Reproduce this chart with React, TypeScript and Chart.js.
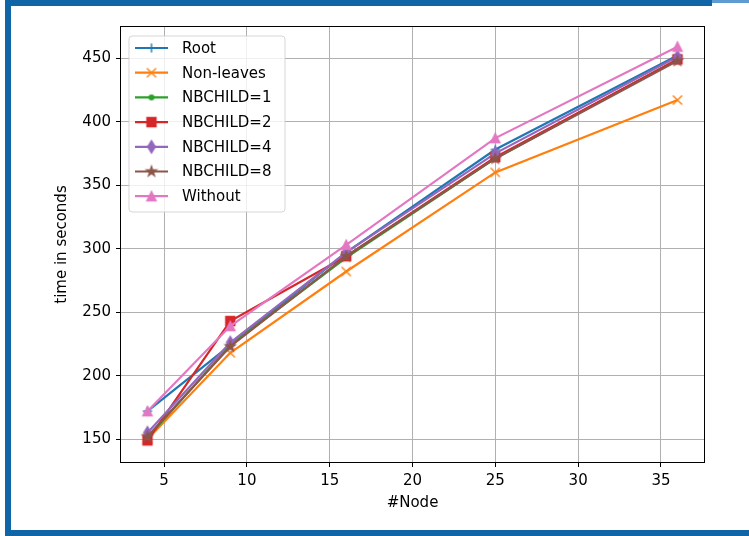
import React, { useEffect, useRef } from 'react';
import { Chart, registerables } from 'chart.js';

Chart.register(...registerables);

// ---- data ----
const nodes = [4, 9, 16, 25, 36];
const seriesNames = ['Root', 'Non-leaves', 'NBCHILD=1', 'NBCHILD=2', 'NBCHILD=4', 'NBCHILD=8', 'Without'];
const rootTimes = [172, 224, 297, 378, 452];
const nonLeavesTimes = [150, 218, 282, 360, 417];
const nbchild1Times = [151, 224, 293, 371, 449];
const nbchild2Times = [149, 243, 294, 372, 449];
const nbchild4Times = [155, 226, 297, 375, 451];
const nbchild8Times = [152, 223, 294, 371, 448];
const withoutTimes = [172, 239, 303, 387, 459];
const xTicks = [5, 10, 15, 20, 25, 30, 35];
const yTicks = [150, 200, 250, 300, 350, 400, 450];
const xLimits = [2.4, 37.6];
const yLimits = [132, 474.5];

const seriesValues = [rootTimes, nonLeavesTimes, nbchild1Times, nbchild2Times, nbchild4Times, nbchild8Times, withoutTimes];
const seriesColors = ['#1f77b4', '#ff7f0e', '#2ca02c', '#d62728', '#9467bd', '#8c564b', '#e377c2'];
const seriesMarkers = ['plus', 'x', 'point', 'square', 'thinDiamond', 'star', 'triangle'];

const FONT = 'DejaVu Sans';
const FONT_SIZE = 15;

function makeMarker(kind: string, color: string): HTMLCanvasElement {
  const c = document.createElement('canvas');
  c.width = 18;
  c.height = 18;
  const ctx = c.getContext('2d')!;
  const cx = 9, cy = 9;
  ctx.strokeStyle = color;
  ctx.fillStyle = color;
  ctx.lineWidth = 1.4;
  ctx.lineJoin = 'miter';
  ctx.beginPath();
  if (kind === 'plus') {
    const h = 4.6;
    ctx.moveTo(cx - h, cy); ctx.lineTo(cx + h, cy);
    ctx.moveTo(cx, cy - h); ctx.lineTo(cx, cy + h);
    ctx.stroke();
  } else if (kind === 'x') {
    const h = 4.6;
    ctx.moveTo(cx - h, cy - h); ctx.lineTo(cx + h, cy + h);
    ctx.moveTo(cx - h, cy + h); ctx.lineTo(cx + h, cy - h);
    ctx.stroke();
  } else if (kind === 'point') {
    ctx.arc(cx, cy, 2.3, 0, Math.PI * 2);
    ctx.fill(); ctx.stroke();
  } else if (kind === 'square') {
    const h = 4.5;
    ctx.rect(cx - h, cy - h, 2 * h, 2 * h);
    ctx.fill(); ctx.stroke();
  } else if (kind === 'thinDiamond') {
    const hh = 6.2, hw = 3.8;
    ctx.moveTo(cx, cy - hh); ctx.lineTo(cx + hw, cy); ctx.lineTo(cx, cy + hh); ctx.lineTo(cx - hw, cy);
    ctx.closePath();
    ctx.fill(); ctx.stroke();
  } else if (kind === 'star') {
    const ro = 5, ri = 5 * 0.382;
    for (let i = 0; i < 10; i++) {
      const r = i % 2 === 0 ? ro : ri;
      const a = -Math.PI / 2 + (i * Math.PI) / 5;
      const px = cx + r * Math.cos(a), py = cy + r * Math.sin(a);
      if (i === 0) ctx.moveTo(px, py); else ctx.lineTo(px, py);
    }
    ctx.closePath();
    ctx.fill(); ctx.stroke();
  } else if (kind === 'triangle') {
    const h = 4.6;
    ctx.moveTo(cx, cy - h); ctx.lineTo(cx + h, cy + h); ctx.lineTo(cx - h, cy + h);
    ctx.closePath();
    ctx.fill(); ctx.stroke();
  }
  return c;
}

const spinePlugin = {
  id: 'spines',
  afterDatasetsDraw(chart: any) {
    const { ctx, chartArea } = chart;
    ctx.save();
    ctx.strokeStyle = '#000';
    ctx.lineWidth = 1;
    ctx.strokeRect(Math.round(chartArea.left) - 0.5, Math.round(chartArea.top) - 0.5,
      Math.round(chartArea.right - chartArea.left) + 1, Math.round(chartArea.bottom - chartArea.top) + 1);
    ctx.restore();
  },
};

const legendPlugin = {
  id: 'mplLegend',
  afterDraw(chart: any) {
    const { ctx, chartArea } = chart;
    const x0 = chartArea.left + 8;
    const y0 = chartArea.top + 9;
    const w = 156;
    const rowH = 24.7;
    const h = 176;
    const r = 3;
    ctx.save();
    ctx.beginPath();
    ctx.moveTo(x0 + r, y0);
    ctx.lineTo(x0 + w - r, y0);
    ctx.quadraticCurveTo(x0 + w, y0, x0 + w, y0 + r);
    ctx.lineTo(x0 + w, y0 + h - r);
    ctx.quadraticCurveTo(x0 + w, y0 + h, x0 + w - r, y0 + h);
    ctx.lineTo(x0 + r, y0 + h);
    ctx.quadraticCurveTo(x0, y0 + h, x0, y0 + h - r);
    ctx.lineTo(x0, y0 + r);
    ctx.quadraticCurveTo(x0, y0, x0 + r, y0);
    ctx.closePath();
    ctx.fillStyle = 'rgba(255,255,255,0.8)';
    ctx.fill();
    ctx.strokeStyle = 'rgba(204,204,204,0.8)';
    ctx.lineWidth = 1;
    ctx.stroke();

    chart.data.datasets.forEach((ds: any, i: number) => {
      const cy = y0 + 12 + i * rowH;
      ctx.strokeStyle = ds.borderColor;
      ctx.lineWidth = ds.borderWidth;
      ctx.beginPath();
      ctx.moveTo(x0 + 6, cy);
      ctx.lineTo(x0 + 39, cy);
      ctx.stroke();
      const m = ds.pointStyle as HTMLCanvasElement;
      ctx.drawImage(m, x0 + 22.5 - m.width / 2, cy - m.height / 2);
      ctx.fillStyle = '#000';
      ctx.font = `${FONT_SIZE}px "${FONT}"`;
      ctx.textBaseline = 'middle';
      ctx.textAlign = 'left';
      ctx.fillText(ds.label, x0 + 53, cy + 1);
    });
    ctx.restore();
  },
};

export default function App() {
  const ref = useRef<HTMLCanvasElement>(null);

  useEffect(() => {
    if (!ref.current) return;
    Chart.defaults.font.family = FONT;
    Chart.defaults.font.size = FONT_SIZE;
    Chart.defaults.color = '#000';

    const n = seriesNames.length;
    const datasets = seriesNames.map((name, i) => ({
      label: name,
      data: nodes.map((x, j) => ({ x, y: seriesValues[i][j] })),
      borderColor: seriesColors[i],
      backgroundColor: seriesColors[i],
      borderWidth: 2.2,
      pointStyle: makeMarker(seriesMarkers[i], seriesColors[i]),
      pointRadius: 5,
      pointHoverRadius: 5,
      tension: 0,
      fill: false,
      order: n - i,
    }));

    const chart = new Chart(ref.current, {
      type: 'line',
      data: { datasets },
      options: {
        responsive: false,
        animation: false,
        events: [],
        layout: { padding: { left: 0, top: 27, right: 45, bottom: 0 } },
        plugins: { legend: { display: false }, tooltip: { enabled: false } },
        scales: {
          x: {
            type: 'linear',
            min: xLimits[0],
            max: xLimits[1],
            afterBuildTicks: (s: any) => { s.ticks = xTicks.map((v) => ({ value: v })); },
            afterFit: (s: any) => { s.height = 74; },
            ticks: { padding: 5, maxRotation: 0, autoSkip: false, callback: (v: any) => String(v) },
            grid: { color: '#b0b0b0', lineWidth: 1, tickColor: '#000', tickLength: 5 },
            border: { display: false },
            title: { display: true, text: '#Node', padding: 24, font: { size: FONT_SIZE } },
          },
          y: {
            type: 'linear',
            min: yLimits[0],
            max: yLimits[1],
            afterBuildTicks: (s: any) => { s.ticks = yTicks.map((v) => ({ value: v })); },
            afterFit: (s: any) => { s.width = 121; },
            ticks: { padding: 5, autoSkip: false, callback: (v: any) => String(v) },
            grid: { color: '#b0b0b0', lineWidth: 1, tickColor: '#000', tickLength: 5 },
            border: { display: false },
            title: { display: true, text: 'time in seconds', padding: 53, font: { size: FONT_SIZE } },
          },
        },
      },
      plugins: [spinePlugin, legendPlugin],
    });
    return () => chart.destroy();
  }, []);

  return (
    <div style={{ position: 'absolute', left: 0, top: 0, width: 749, height: 536, background: '#fff', overflow: 'hidden' }}>
      <canvas ref={ref} width={749} height={536} style={{ position: 'absolute', left: 0, top: 0 }} />
      <div style={{ position: 'absolute', left: 5, top: 0, width: 707, height: 6, background: '#0f65a5' }} />
      <div style={{ position: 'absolute', left: 712, top: 0, width: 37, height: 3, background: '#5d9bd0' }} />
      <div style={{ position: 'absolute', left: 5, top: 0, width: 6, height: 536, background: '#0f65a5' }} />
      <div style={{ position: 'absolute', left: 5, top: 530, width: 744, height: 6, background: '#0f65a5' }} />
    </div>
  );
}
